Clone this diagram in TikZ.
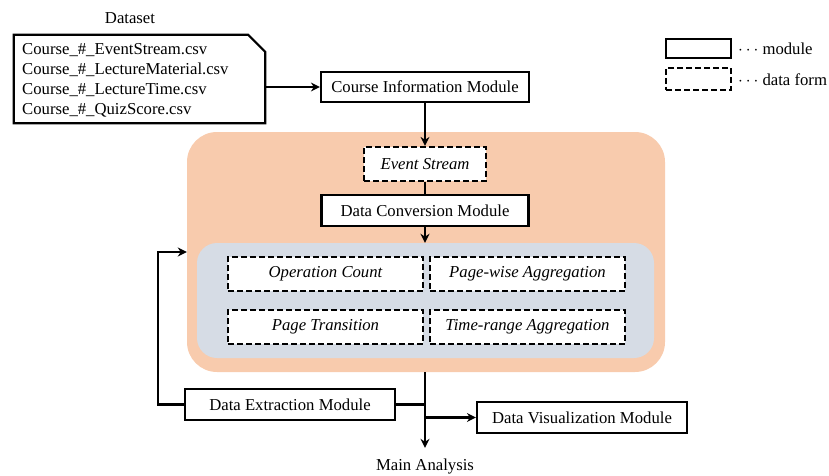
\documentclass[tikz,border=0pt]{standalone}
\usepackage{fontspec}
\setmainfont{LiberationSerif}[Extension=.ttf, UprightFont=*-Regular, ItalicFont=*-Italic, BoldFont=*-Bold, BoldItalicFont=*-BoldItalic]
\usetikzlibrary{arrows.meta}
\definecolor{orangebg}{HTML}{F8CBAD}
\definecolor{bluebg}{HTML}{D6DCE5}
\begin{document}
\begin{tikzpicture}[x=1pt,y=-1pt,
  font=\fontsize{16.7}{20}\selectfont,
  modbox/.style={draw=black, line width=2.2pt, fill=white, inner sep=0pt},
  formbox/.style={draw=black, line width=2.2pt, dash pattern=on 6pt off 3pt, fill=white, inner sep=0pt, font=\fontsize{16.7}{20}\selectfont\itshape},
  conn/.style={line width=2.2pt},
  arr/.style={line width=2.2pt, -{Stealth[length=9pt,width=9pt]}}
]
\useasboundingbox (0,0) rectangle (829,476);

% background regions
\node[fill=orangebg, rounded corners=30pt, minimum width=478pt, minimum height=240pt, inner sep=0pt] (orange) at (426,252) {};
\node[fill=bluebg, rounded corners=20pt, minimum width=457pt, minimum height=115pt, inner sep=0pt] (blue) at (425.5,300.5) {};

% dataset
\node (dslabel) at (130,18) {Dataset};
\node[inner sep=0pt, minimum width=251pt, minimum height=88pt] (ds) at (139.5,79) {};
\draw[line width=2.2pt] (ds.north west) -- ([xshift=-17pt]ds.north east) -- ([yshift=-17pt]ds.north east) -- (ds.south east) -- (ds.south west) -- cycle;
\node[anchor=west, align=left, inner sep=0pt] (dstext) at (22,80) {Course\_\#\_EventStream.csv\\Course\_\#\_LectureMaterial.csv\\Course\_\#\_LectureTime.csv\\Course\_\#\_QuizScore.csv};

% modules
\node[modbox, minimum width=208pt, minimum height=30pt] (cim) at (425,87) {Course Information Module};
\node[formbox, minimum width=122pt, minimum height=34pt] (es) at (425,164) {Event Stream};
\node[modbox, minimum width=207pt, minimum height=31pt] (dcm) at (425,210.5) {Data Conversion Module};

\node[formbox, minimum width=195pt, minimum height=34pt] (oc) at (325.5,274) {Operation Count};
\node[formbox, minimum width=195pt, minimum height=34pt] (pw) at (527.5,274) {Page-wise Aggregation};
\node[formbox, minimum width=195pt, minimum height=34pt] (pt) at (325.5,327) {Page Transition};
\node[formbox, minimum width=195pt, minimum height=34pt] (tr) at (527.5,327) {Time-range Aggregation};

\node[modbox, minimum width=210pt, minimum height=31pt] (dem) at (290,404.5) {Data Extraction Module};
\node[modbox, minimum width=210pt, minimum height=31pt] (dvm) at (582,417.5) {Data Visualization Module};
\node (ma) at (425,467) {Main Analysis};

% legend
\node[modbox, minimum width=65pt, minimum height=19pt] (lgmod) at (698.5,48.5) {};
\node[formbox, minimum width=65pt, minimum height=22pt] (lgform) at (698.5,79) {};
\node[anchor=west, inner sep=0pt] (lgmodt) at (738,49) {$\cdots$ module};
\node[anchor=west, inner sep=0pt] (lgformt) at (738,80) {$\cdots$ data form};

% connectors
\draw[arr] (ds.east |- cim.west) -- (cim.west);
\draw[arr] (cim.south) -- (es.north);
\draw[conn] (es.south) -- (dcm.north);
\draw[arr] (dcm.south) -- (dcm.south |- blue.north);
\coordinate (jtop) at (orange.south -| ma.north);
\draw[arr] (jtop) -- ([yshift=8pt]ma.north);
\draw[conn] (dem.east) -- (dem.east -| ma.north);
\draw[arr] (dvm.west -| ma.north) -- (dvm.west);
\coordinate (fb) at (158,252);
\draw[arr] (dem.west) -| (fb) -- (fb -| orange.west);
\end{tikzpicture}
\end{document}
